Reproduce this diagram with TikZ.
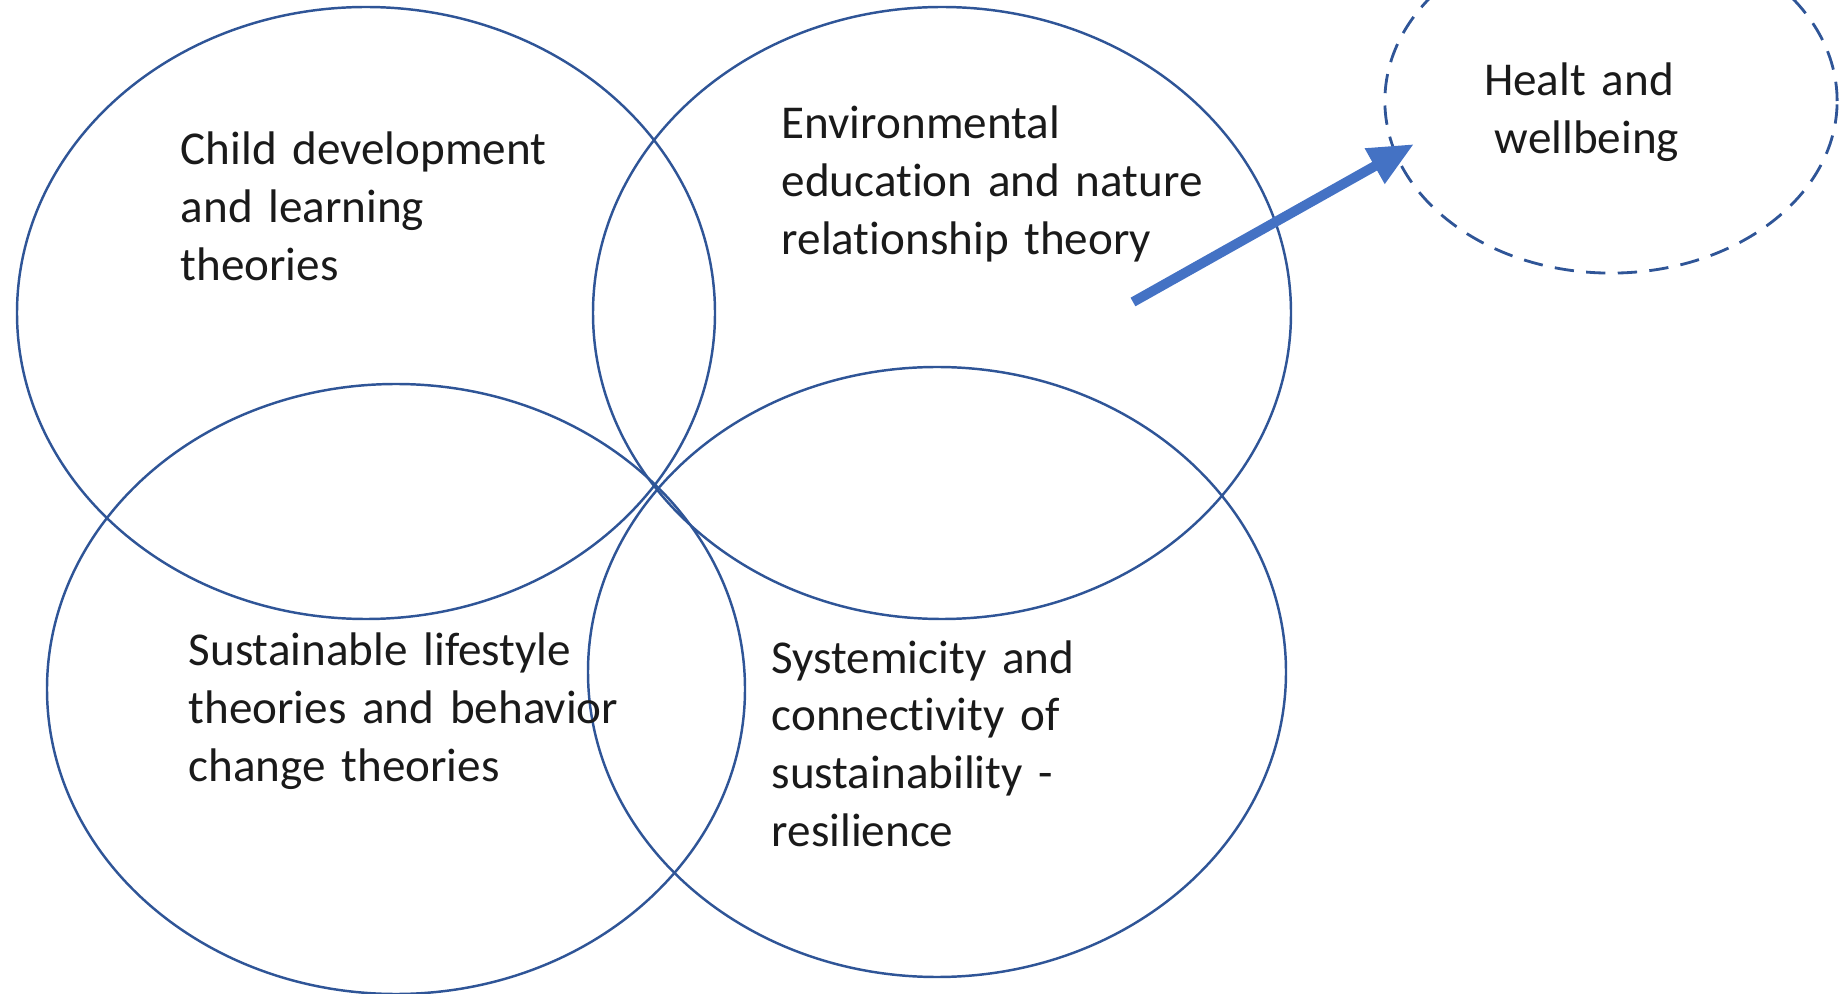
\documentclass[tikz,border=0pt]{standalone}
\usepackage{fontspec}
\setmainfont{Carlito}[Ligatures=NoCommon]
\usetikzlibrary{arrows.meta,shapes.geometric}

\definecolor{ringblue}{HTML}{2F5597}
\definecolor{arrowblue}{HTML}{4472C4}
\definecolor{textdark}{HTML}{1A1A1A}

\begin{document}
\begin{tikzpicture}[x=0.01cm, y=-0.01cm]
        % Define styles
        \tikzstyle{ring} = [draw=ringblue, line width=0.7pt]
        \tikzstyle{goal} = [ellipse, draw=ringblue, line width=0.8pt, dash pattern=on 5.5pt off 3.5pt, minimum width=4.52cm, minimum height=3.44cm, inner sep=0pt]
        \tikzstyle{theory} = [anchor=base west, inner sep=0pt, text width=5.4cm, align=left, text=textdark, font=\fontsize{13.4}{16.4}\selectfont]
        \tikzstyle{arrow} = [draw=arrowblue, line width=2.8pt, -{Triangle[length=0.45cm, width=0.38cm]}]

        \useasboundingbox (0,0) rectangle (1844,994);

        % Circles
        \draw [ring] (366,313) ellipse [x radius=349, y radius=306];
        \draw [ring] (942,313) ellipse [x radius=349, y radius=306];
        \draw [ring] (396,689) ellipse [x radius=349, y radius=305];
        \draw [ring] (937,672) ellipse [x radius=349, y radius=305];

        % Nodes
        \node [goal] (health) at (1611,101) {};
        \node [theory] (child) at (180,165) {Child development\\and learning\\theories};
        \node [theory] (nature) at (781,139) {Environmental\\education and nature\\relationship theory};
        \node [theory] (lifestyle) at (188,666) {Sustainable lifestyle\\theories and behavior\\change theories};
        \node [theory] (systems) at (771,673) {Systemicity and\\connectivity of\\sustainability -\\resilience};
        \node [theory, anchor=base, text width=3cm, align=center] (healthtext) at (1587,96) {\kern-0.16cm Healt and\\wellbeing};

        % Arrows
        \coordinate (tail) at (1133,302);
        \draw [arrow, shorten >=-0.22cm] (tail) -- (health.194);
\end{tikzpicture}
\end{document}
